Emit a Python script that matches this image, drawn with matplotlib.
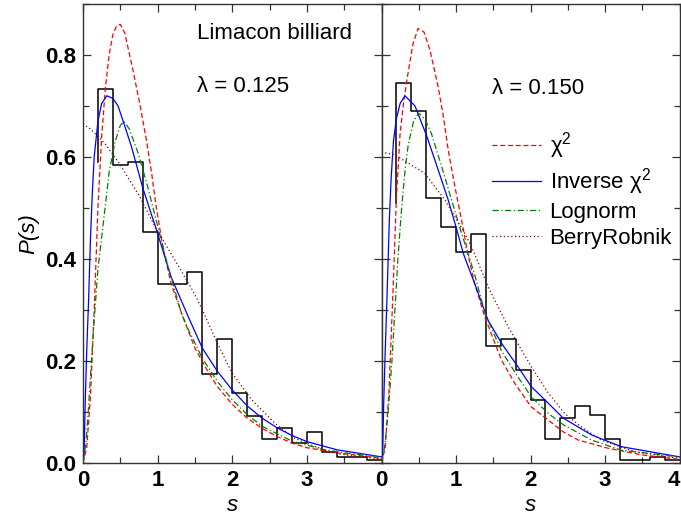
import numpy as np
import matplotlib
matplotlib.use("Agg")
import matplotlib.pyplot as plt
from matplotlib.ticker import MultipleLocator, FixedLocator

plt.rcParams['font.family'] = ['Liberation Sans', 'DejaVu Sans']
plt.rcParams['mathtext.fontset'] = 'custom'
plt.rcParams['mathtext.rm'] = 'Liberation Sans'
plt.rcParams['mathtext.it'] = 'Liberation Sans:italic'

# ---------------- data ----------------
bin_edges = [0.2, 0.4, 0.6, 0.8, 1.0, 1.2, 1.4, 1.6, 1.8, 2.0, 2.2, 2.4, 2.6,
             2.8, 3.0, 3.2, 3.4, 3.6, 3.8, 4.0]
hist_start_left = 0.59
hist_left = [0.733, 0.584, 0.590, 0.452, 0.351, 0.351, 0.375, 0.175, 0.243,
             0.137, 0.093, 0.048, 0.068, 0.040, 0.061, 0.022, 0.011, 0.011, 0.005]
hist_start_right = 0.51
hist_right = [0.746, 0.690, 0.519, 0.463, 0.414, 0.450, 0.230, 0.243, 0.182,
              0.124, 0.048, 0.088, 0.112, 0.094, 0.048, 0.005, 0.005, 0.012, 0.005]

# left panel (lambda = 0.125)
chi_s_L = [0, 0.05, 0.1, 0.15, 0.2, 0.25, 0.3, 0.35, 0.4, 0.45, 0.5, 0.56, 0.67,
           0.76, 0.85, 0.92, 0.98, 1.07, 1.18, 1.32, 1.5, 1.68, 1.8, 2.0, 2.2,
           2.4, 2.6, 2.8, 3.0, 3.4, 4.0]
chi_p_L = [0, 0.03, 0.13, 0.30, 0.50, 0.64, 0.735, 0.80, 0.84, 0.857, 0.86,
           0.843, 0.77, 0.705, 0.633, 0.568, 0.503, 0.424, 0.352, 0.294, 0.225,
           0.178, 0.150, 0.115, 0.088, 0.068, 0.052, 0.039, 0.030, 0.020, 0.009]
inv_s_L = [0, 0.015, 0.03, 0.05, 0.075, 0.1, 0.125, 0.15, 0.2, 0.25, 0.32, 0.4,
           0.47, 0.55, 0.65, 0.8, 1.0, 1.18, 1.41, 1.6, 1.8, 2.0, 2.2, 2.4, 2.6,
           2.8, 3.0, 3.4, 4.0]
inv_p_L = [0, 0.02, 0.12, 0.22, 0.32, 0.44, 0.53, 0.60, 0.67, 0.705, 0.72, 0.715,
           0.70, 0.665, 0.62, 0.54, 0.45, 0.365, 0.287, 0.225, 0.18, 0.143, 0.112,
           0.088, 0.069, 0.054, 0.042, 0.026, 0.012]
log_s_L = [0, 0.04, 0.07, 0.1, 0.14, 0.2, 0.28, 0.35, 0.43, 0.5, 0.55, 0.62, 0.74,
           0.87, 0.98, 1.14, 1.32, 1.4, 1.6, 1.8, 2.0, 2.2, 2.4, 2.8, 3.2, 3.6, 4.0]
log_p_L = [0, 0.04, 0.10, 0.17, 0.26, 0.38, 0.48, 0.57, 0.63, 0.662, 0.67, 0.655,
           0.607, 0.54, 0.476, 0.385, 0.293, 0.265, 0.205, 0.16, 0.124, 0.095,
           0.072, 0.043, 0.027, 0.018, 0.012]
br_s_L = [0, 0.1, 0.2, 0.3, 0.4, 0.5, 0.6, 0.75, 0.96, 1.23, 1.49, 1.6, 1.8, 2.0,
          2.26, 2.57, 2.84, 3.29, 3.6, 4.0]
br_p_L = [0.665, 0.655, 0.64, 0.625, 0.605, 0.585, 0.56, 0.525, 0.465, 0.398,
          0.333, 0.30, 0.235, 0.176, 0.124, 0.078, 0.048, 0.022, 0.014, 0.008]

# right panel (lambda = 0.150)
chi_s_R = [0, 0.05, 0.1, 0.15, 0.2, 0.25, 0.3, 0.34, 0.42, 0.49, 0.57, 0.65, 0.76,
           0.83, 0.895, 0.985, 1.075, 1.16, 1.25, 1.39, 1.61, 1.79, 2.01, 2.24,
           2.44, 2.64, 3.04, 3.49, 4.0]
chi_p_R = [0, 0.03, 0.14, 0.32, 0.52, 0.647, 0.71, 0.75, 0.82, 0.852, 0.845,
           0.81, 0.738, 0.68, 0.614, 0.542, 0.476, 0.41, 0.352, 0.285, 0.202,
           0.156, 0.11, 0.084, 0.061, 0.045, 0.029, 0.016, 0.007]
inv_s_R = [0, 0.015, 0.03, 0.05, 0.075, 0.105, 0.13, 0.16, 0.2, 0.25, 0.315, 0.45,
           0.61, 0.76, 0.895, 1.0, 1.1, 1.25, 1.43, 1.61, 1.83, 2.01, 2.24, 2.44,
           2.82, 3.22, 4.0]
inv_p_R = [0, 0.02, 0.12, 0.22, 0.33, 0.476, 0.56, 0.63, 0.675, 0.705, 0.72, 0.70,
           0.64, 0.575, 0.516, 0.463, 0.41, 0.352, 0.28, 0.235, 0.189, 0.15, 0.117,
           0.088, 0.055, 0.032, 0.012]
log_s_R = [0, 0.04, 0.07, 0.1, 0.14, 0.18, 0.22, 0.27, 0.32, 0.36, 0.43, 0.5, 0.58,
           0.67, 0.81, 0.94, 1.075, 1.25, 1.39, 1.61, 1.83, 2.01, 2.24, 2.44, 2.82,
           3.22, 4.0]
log_p_R = [0, 0.03, 0.07, 0.12, 0.2, 0.3, 0.4, 0.5, 0.58, 0.625, 0.67, 0.686,
           0.675, 0.646, 0.58, 0.516, 0.45, 0.37, 0.293, 0.22, 0.169, 0.13, 0.097,
           0.075, 0.045, 0.025, 0.012]
br_s_R = [0, 0.18, 0.36, 0.58, 0.85, 1.12, 1.25, 1.43, 1.7, 2.01, 2.24, 2.46,
          2.68, 2.95, 3.4, 4.0]
br_p_R = [0.61, 0.604, 0.588, 0.568, 0.516, 0.45, 0.41, 0.346, 0.267, 0.189,
          0.137, 0.097, 0.071, 0.045, 0.022, 0.009]

labels = [r'$\mathregular{\chi^2}$', r'Inverse $\mathregular{\chi^2}$',
          'Lognorm', 'BerryRobnik']
panel_text = ['Limacon billiard', None]
lambda_text = [u'\u03bb = 0.125', u'\u03bb = 0.150']
xtick_labels_L = ['0', '1', '2', '3', '']
xtick_labels_R = ['0', '1', '2', '3', '4']

# ---------------- figure ----------------
W, H = 681, 520
fig = plt.figure(figsize=(W / 100, H / 100), dpi=100)
x0, x1, x2 = 83, 381.5, 679.5
ytop, ybot = 4, 463
axL = fig.add_axes([x0 / W, 1 - ybot / H, (x1 - x0) / W, (ybot - ytop) / H])
axR = fig.add_axes([x1 / W, 1 - ybot / H, (x2 - x1) / W, (ybot - ytop) / H])

FS = 16
lw = 0.9
red, blue, green, brown = '#ff0000', '#0000ff', '#008000', '#800000'

def draw(ax, hist_start, hist, chi, inv, logn, br):
    edges = np.array(bin_edges)
    vals = np.array(hist)
    xs = np.r_[edges[0], edges]
    ys = np.r_[hist_start, vals, vals[-1]]
    ax.plot(xs, ys, drawstyle='steps-post', color='black', lw=1.1, zorder=2)
    h1, = ax.plot(chi[0], chi[1], color=red, lw=lw, dashes=(4, 2.2), zorder=3)
    h2, = ax.plot(inv[0], inv[1], color=blue, lw=lw, zorder=3)
    h3, = ax.plot(logn[0], logn[1], color=green, lw=lw,
                  dashes=(5, 2, 1, 2), zorder=3)
    h4, = ax.plot(br[0], br[1], color=brown, lw=lw, dashes=(1, 2), zorder=3)
    ax.set_xlim(0, 4)
    ax.set_ylim(0, 0.9)
    ax.xaxis.set_major_locator(FixedLocator([0, 1, 2, 3, 4]))
    ax.xaxis.set_minor_locator(MultipleLocator(0.5))
    ax.yaxis.set_major_locator(MultipleLocator(0.2))
    ax.yaxis.set_minor_locator(MultipleLocator(0.1))
    ax.tick_params(which='both', direction='in', top=True, right=True,
                   width=0.9, color='#333333')
    ax.tick_params(which='major', length=6, pad=5, labelsize=FS)
    ax.tick_params(which='minor', length=4)
    for sp in ax.spines.values():
        sp.set_linewidth(1.0)
        sp.set_color('#333333')
    ax.set_xlabel('s', fontsize=FS, style='italic', labelpad=3)
    return [h1, h2, h3, h4]

hL = draw(axL, hist_start_left, hist_left, (chi_s_L, chi_p_L), (inv_s_L, inv_p_L),
          (log_s_L, log_p_L), (br_s_L, br_p_L))
hR = draw(axR, hist_start_right, hist_right, (chi_s_R, chi_p_R), (inv_s_R, inv_p_R),
          (log_s_R, log_p_R), (br_s_R, br_p_R))

axL.set_xticklabels(xtick_labels_L, fontweight='bold')
axR.set_xticklabels(xtick_labels_R, fontweight='bold')
axR.get_xticklabels()[-1].set_horizontalalignment('right')
axL.set_yticklabels(['%.1f' % v for v in axL.get_yticks()], fontweight='bold')
axR.tick_params(labelleft=False)

axL.set_ylabel('P(s)', fontsize=FS, style='italic', labelpad=4)

axL.text(0.383, 0.935, panel_text[0], transform=axL.transAxes, fontsize=FS,
         ha='left', va='center')
axL.text(0.383, 0.82, lambda_text[0], transform=axL.transAxes, fontsize=FS,
         ha='left', va='center')
axR.text(0.37, 0.816, lambda_text[1], transform=axR.transAxes, fontsize=FS,
         ha='left', va='center')

axR.legend(hR, labels, loc='upper left', bbox_to_anchor=(0.37, 0.725),
           frameon=False, fontsize=FS, handlelength=2.2, handletextpad=0.4,
           labelspacing=0.22, borderpad=0, borderaxespad=0)

fig.savefig('out.png', dpi=100)
